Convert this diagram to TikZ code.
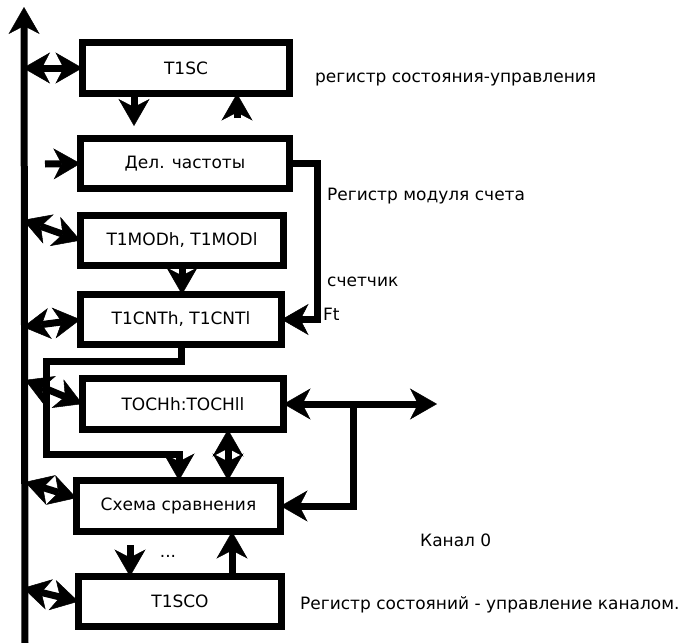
\documentclass[tikz,border=0pt]{standalone}
\usepackage{fontspec}
\setmainfont{DejaVu Sans}
\usetikzlibrary{arrows.meta}
\begin{document}
\begin{tikzpicture}[x=1pt,y=-1pt,
  >={Stealth[length=27pt,width=31pt,inset=8pt,line width=0.5pt]},
  reg/.style={draw,line width=7pt,rectangle,outer sep=0pt,inner sep=0pt,
    font=\fontsize{17}{20}\selectfont},
  conn/.style={line width=7pt},
  lbl/.style={font=\fontsize{17}{20}\selectfont,inner sep=0pt,anchor=base west}]
\useasboundingbox (0,0) rectangle (681,643);

% registers
\node[reg,minimum width=207pt,minimum height=51pt] (t1sc) at (186,68) {T1SC};
\node[reg,minimum width=209pt,minimum height=50pt] (del)  at (185,163.5) {Дел. частоты};
\node[reg,minimum width=203pt,minimum height=50pt] (mod)  at (182,240.5) {T1MODh, T1MODl};
\node[reg,minimum width=201pt,minimum height=50pt] (cnt)  at (181,319.5) {T1CNTh, T1CNTl};
\node[reg,minimum width=201pt,minimum height=51pt] (toch) at (183,404) {TOCHh:TOCHll};
\node[reg,minimum width=204pt,minimum height=51pt] (cmp)  at (178.5,506) {Схема сравнения};
\node[reg,minimum width=203pt,minimum height=50pt] (sco)  at (180,601.5) {T1SCO};

% data bus
\coordinate (busBot) at (25,643);
\coordinate (busTop) at (24,7);
\draw[conn,->] (busBot) -- (busTop);

\coordinate (b1) at (23,68);
\coordinate (b2) at (23,220);
\coordinate (b3) at (23,327);
\coordinate (b4) at (25,380);
\coordinate (b5) at (25,482);
\coordinate (b6) at (23,588);
\draw[conn,<->] (b1) -- (t1sc.west);
\draw[conn,<->] (b2) -- (mod.west);
\draw[conn,<->] (b3) -- (cnt.west);
\draw[conn,<->] (b4) -- (toch.west);
\draw[conn,<->] (b5) -- ([yshift=8pt]cmp.west);
\draw[conn,<->] (b6) -- (sco.west);

% control register links
\coordinate (a1) at (134,126);
\coordinate (a2) at (237,118);
\draw[conn,->] (t1sc.south -| a1) -- (a1);
\draw[conn,->] (a2) -- (a2 |- t1sc.south);

% clock input and divider output
\coordinate (a3) at (45,164);
\draw[conn,->] (a3) -- (del.west);
\coordinate (f1) at (317,240);
\draw[conn,->] (del.east) -| (f1) |- (cnt.east);

% modulo register to counter
\draw[conn,->] (mod.south) -- (mod.south |- cnt.north);

% counter to comparator
\coordinate (r1) at (46,361);
\coordinate (r2) at (179,454);
\draw[conn,->] (cnt.south) |- (r1) |- (r2) -- (r2 |- cmp.north);

% compare register and comparator
\coordinate (v1) at (228,455);
\draw[conn,<->] (toch.south -| v1) -- (cmp.north -| v1);
\coordinate (o1) at (437,404);
\coordinate (j1) at (353,404);
\draw[conn,<->] (toch.east) -- (o1);
\draw[conn,->] (j1) |- (cmp.east);

% channel status register
\coordinate (a4) at (130,545);
\coordinate (a5) at (232,555);
\draw[conn,->] (a4) -- (a4 |- sco.north);
\draw[conn,->] (sco.north -| a5) -- (cmp.south -| a5);
\node[lbl,anchor=base] (dots) at (168,557) {...};

% captions
\node[lbl] (c1) at (315,82) {регистр состояния-управления};
\node[lbl] (c2) at (327,200) {Регистр модуля счета};
\node[lbl] (c3) at (327,286) {счетчик};
\node[lbl] (c4) at (323,320) {Ft};
\node[lbl] (c5) at (420,546) {Канал 0};
\node[lbl] (c6) at (300,609) {Регистр состояний - управление каналом.};
\end{tikzpicture}
\end{document}
